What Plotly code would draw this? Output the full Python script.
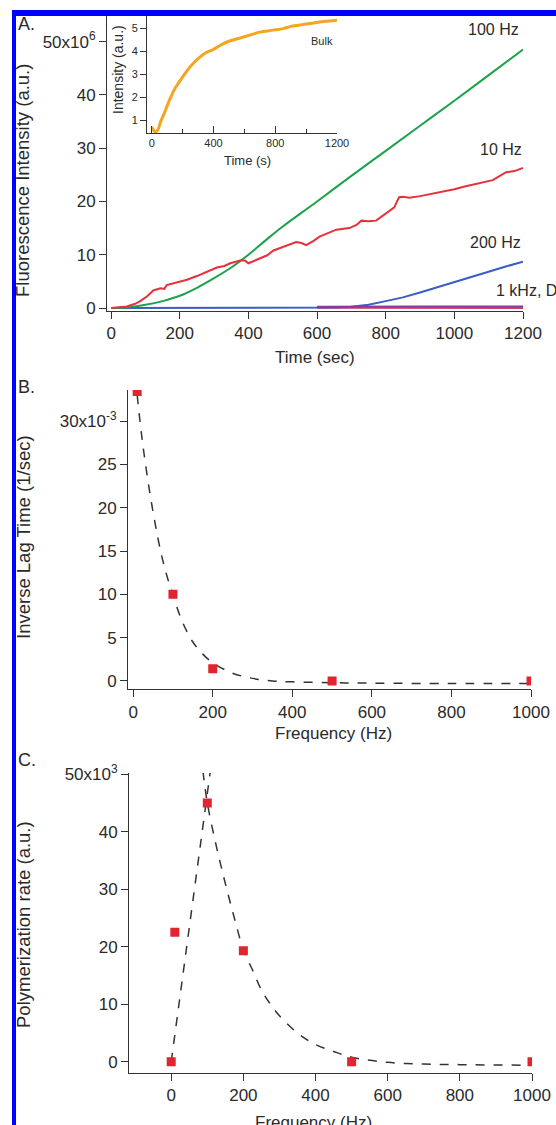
import plotly.graph_objects as go

W, H = 556, 1125

# ---------------- Data ----------------
# Panel A: fluorescence vs time
t_100hz = [0, 50, 100, 150, 200, 250, 300, 350, 400, 450, 500, 600, 700, 800, 900, 1000, 1100, 1200]
v_100hz = [0, 0.15, 0.6, 1.3, 2.3, 3.8, 5.6, 7.6, 10.0, 12.7, 15.3, 20.0, 24.8, 29.5, 34.2, 38.9, 43.7, 48.5]

t_10hz = [0, 20, 46, 70, 85, 105, 123, 143, 155, 162, 180, 201, 221, 250, 279, 308, 330, 347, 376, 390,
          400, 415, 434, 455, 473, 500, 520, 539, 555, 568, 590, 607, 630, 656, 694, 715, 729, 750, 772,
          801, 825, 833, 839, 850, 869, 900, 930, 967, 1000, 1030, 1064, 1090, 1112, 1130, 1151, 1175, 1200]
v_10hz = [0, 0.1, 0.3, 0.8, 1.3, 2.2, 3.3, 3.7, 3.6, 4.3, 4.6, 4.9, 5.3, 6.0, 6.8, 7.6, 7.9, 8.4, 8.9, 8.9,
          8.4, 8.8, 9.3, 9.9, 10.8, 11.4, 11.9, 12.4, 12.2, 11.8, 12.6, 13.4, 14.0, 14.7, 15.0, 15.6, 16.4, 16.3, 16.4,
          17.7, 18.9, 20.0, 20.8, 20.9, 20.7, 21.0, 21.4, 21.8, 22.3, 22.8, 23.3, 23.6, 24.0, 24.7, 25.5, 25.7, 26.3]

t_200hz = [0, 200, 400, 600, 650, 700, 750, 800, 850, 900, 950, 1000, 1050, 1100, 1150, 1200]
v_200hz = [0, 0, 0, 0.02, 0.08, 0.25, 0.6, 1.3, 2.0, 2.9, 3.9, 4.9, 5.9, 6.9, 7.8, 8.7]

t_1khz = [600, 700, 800, 900, 1000, 1100, 1200]
v_1khz = [0.25, 0.3, 0.25, 0.3, 0.3, 0.25, 0.3]
t_dc = [600, 700, 800, 900, 1000, 1100, 1200]
v_dc = [0.05, 0.05, 0.0, 0.05, 0.0, 0.05, 0.0]

# Inset: bulk
t_bulk = [0, 10, 20, 30, 40, 50, 60, 80, 100, 125, 150, 175, 200, 250, 300, 350, 400, 450, 500, 550,
          600, 650, 700, 750, 800, 850, 900, 950, 1000, 1050, 1100, 1150, 1200]
v_bulk = [0.73, 0.6, 0.52, 0.52, 0.6, 0.8, 1.0, 1.3, 1.65, 2.05, 2.4, 2.65, 2.9, 3.35, 3.7, 3.95, 4.1,
          4.3, 4.45, 4.55, 4.65, 4.75, 4.85, 4.9, 4.95, 5.0, 5.1, 5.15, 5.2, 5.25, 5.3, 5.33, 5.37]

# Panel B: inverse lag time
freq_b = [10, 100, 200, 500, 1000]
inv_lag = [33.4, 10.0, 1.4, 0.0, 0.0]
fitb_x = [10, 25, 50, 75, 100, 125, 150, 175, 200, 250, 300, 350, 400, 500, 600, 800, 1000]
fitb_y = [33.0, 27.0, 19.5, 13.8, 9.9, 6.7, 4.5, 3.1, 2.1, 0.9, 0.3, 0.0, -0.1, -0.2, -0.25, -0.3, -0.3]

# Panel C: polymerization rate
freq_c = [0, 10, 100, 200, 500, 1000]
poly_rate = [0, 22.5, 45.0, 19.3, 0.0, 0.0]
fitc1_x = [0, 109]
fitc1_y = [0, 50.8]
fitc2_x = [88, 100, 125, 150, 175, 200, 225, 250, 275, 300, 350, 400, 450, 500, 600, 700, 800, 1000]
fitc2_y = [50.5, 45.0, 37.5, 31.0, 25.0, 19.5, 16.0, 12.5, 10.0, 8.0, 5.0, 3.0, 1.8, 0.8, -0.1, -0.4, -0.5, -0.6]

# ---------------- Layout helpers ----------------
def px_x(p):
    return p / W

def px_y(p):
    return 1 - p / H

FONT = "Arial, Liberation Sans, sans-serif"
TXT = "#2a2a2a"
AX = "#333333"

fig = go.Figure()

GREEN = "#1aa34a"
RED = "#e8303a"
BLUE = "#3a5cc4"
PURPLE = "#8a3a9e"
MAGENTA = "#d0406a"
ORANGE = "#f5a520"
MRED = "#e0252f"

# Panel A traces
fig.add_trace(go.Scatter(x=t_dc, y=v_dc, mode="lines", line=dict(color=MAGENTA, width=2), xaxis="x", yaxis="y"))
fig.add_trace(go.Scatter(x=t_200hz, y=v_200hz, mode="lines", line=dict(color=BLUE, width=2), xaxis="x", yaxis="y"))
fig.add_trace(go.Scatter(x=t_1khz, y=v_1khz, mode="lines", line=dict(color=PURPLE, width=2), xaxis="x", yaxis="y"))
fig.add_trace(go.Scatter(x=t_100hz, y=v_100hz, mode="lines", line=dict(color=GREEN, width=2, shape="spline"), xaxis="x", yaxis="y"))
fig.add_trace(go.Scatter(x=t_10hz, y=v_10hz, mode="lines", line=dict(color=RED, width=2), xaxis="x", yaxis="y"))

# Inset
fig.add_trace(go.Scatter(x=t_bulk, y=v_bulk, mode="lines", line=dict(color=ORANGE, width=3, shape="spline"), xaxis="x4", yaxis="y4"))

# Panel B
fig.add_trace(go.Scatter(x=fitb_x, y=fitb_y, mode="lines", line=dict(color="#333", width=1.5, dash="dash", shape="spline"), xaxis="x2", yaxis="y2"))
fig.add_trace(go.Scatter(x=freq_b, y=inv_lag, mode="markers", marker=dict(symbol="square", size=9, color=MRED), xaxis="x2", yaxis="y2"))

# Panel C
fig.add_trace(go.Scatter(x=fitc1_x, y=fitc1_y, mode="lines", line=dict(color="#333", width=1.5, dash="dash"), xaxis="x3", yaxis="y3"))
fig.add_trace(go.Scatter(x=fitc2_x, y=fitc2_y, mode="lines", line=dict(color="#333", width=1.5, dash="dash", shape="spline"), xaxis="x3", yaxis="y3"))
fig.add_trace(go.Scatter(x=freq_c, y=poly_rate, mode="markers", marker=dict(symbol="square", size=9, color=MRED), xaxis="x3", yaxis="y3"))

def axstyle(**kw):
    d = dict(showline=True, linecolor=AX, linewidth=1, ticks="outside", ticklen=7, tickcolor=AX,
             tickwidth=1, showgrid=False, zeroline=False, automargin=False,
             tickfont=dict(family=FONT, size=17, color=TXT), fixedrange=True)
    d.update(kw)
    return d

fig.update_layout(
    template="none",
    width=W, height=H, autosize=False,
    margin=dict(l=0, r=0, t=0, b=0, pad=0),
    paper_bgcolor="white", plot_bgcolor="rgba(0,0,0,0)",
    showlegend=False,
    font=dict(family=FONT, color=TXT),
    # Panel A
    xaxis=axstyle(domain=[px_x(107), px_x(523)], range=[-12, 1200], anchor="y",
                  tickvals=[0, 200, 400, 600, 800, 1000, 1200]),
    yaxis=axstyle(domain=[px_y(310.7), px_y(16)], range=[-0.5, 54.8], anchor="x",
                  tickvals=[0, 10, 20, 30, 40, 50],
                  ticktext=["0", "10", "20", "30", "40", "50x10<sup>6</sup>"]),
    # Panel B
    xaxis2=axstyle(domain=[px_x(128), px_x(531)], range=[-13, 1000], anchor="y2",
                   tickvals=[0, 200, 400, 600, 800, 1000]),
    yaxis2=axstyle(domain=[px_y(689.3), px_y(390)], range=[-0.96, 33.58], anchor="x2",
                   tickvals=[0, 5, 10, 15, 20, 25, 30],
                   ticktext=["0", "5", "10", "15", "20", "25", "30x10<sup>-3</sup>"]),
    # Panel C
    xaxis3=axstyle(domain=[px_x(129), px_x(532)], range=[-117, 1000], anchor="y3",
                   tickvals=[0, 200, 400, 600, 800, 1000]),
    yaxis3=axstyle(domain=[px_y(1072.7), px_y(773)], range=[-1.9, 50.2], anchor="x3",
                   tickvals=[0, 10, 20, 30, 40, 50],
                   ticktext=["0", "10", "20", "30", "40", "50x10<sup>3</sup>"]),
    # Inset
    xaxis4=axstyle(domain=[px_x(147), px_x(337)], range=[-31, 1200], anchor="y4",
                   ticks="inside", ticklen=7, tickvals=[0, 400, 800, 1200],
                   minor=dict(tickvals=[200, 600, 1000], ticks="inside", ticklen=4, tickcolor=AX),
                   tickfont=dict(family=FONT, size=11, color=TXT)),
    yaxis4=axstyle(domain=[px_y(133), px_y(16)], range=[0.46, 5.55], anchor="x4",
                   ticklen=6, tickvals=[1, 2, 3, 4, 5],
                   tickfont=dict(family=FONT, size=11, color=TXT)),
)

ann = []
def text(x, y, s, size=17, xanchor="center", yanchor="middle", angle=0):
    ann.append(dict(x=px_x(x), y=px_y(y), xref="paper", yref="paper", text=s, showarrow=False,
                    xanchor=xanchor, yanchor=yanchor, textangle=angle,
                    font=dict(family=FONT, size=size, color=TXT)))

# panel letters
text(16, 24, "A.", 18, xanchor="left")
text(16, 387, "B.", 18, xanchor="left")
text(16, 760, "C.", 18, xanchor="left")
# axis titles
text(315, 357, "Time (sec)")
text(23, 181, "Fluorescence Intensity (a.u.)", 18.5, angle=-90)
text(333, 733, "Frequency (Hz)")
text(23, 537, "Inverse Lag Time (1/sec)", 18.5, angle=-90)
text(313, 1122, "Frequency (Hz)")
text(23, 925, "Polymerization rate (a.u.)", 18.5, angle=-90)
# inset titles
text(247, 160, "Time (s)", 13)
text(118, 70, "Intensity (a.u.)", 14, angle=-90)
text(322, 41, "Bulk", 11)
# curve labels
text(493, 30, "100 Hz", 16)
text(501, 150, "10 Hz", 16)
text(495, 242, "200 Hz", 16)
text(494, 291, "1 kHz, DC", 16, xanchor="left")

fig.update_layout(annotations=ann)

# blue frame
fig.update_layout(shapes=[
    dict(type="rect", xref="paper", yref="paper", x0=px_x(12), x1=px_x(16), y0=0, y1=px_y(10),
         fillcolor="#0000ff", line=dict(width=0), layer="above"),
    dict(type="rect", xref="paper", yref="paper", x0=px_x(12), x1=1, y0=px_y(16), y1=px_y(10),
         fillcolor="#0000ff", line=dict(width=0), layer="above"),
])

post = (
    "document.documentElement.style.margin='0';document.documentElement.style.padding='0';"
    "document.documentElement.style.overflow='hidden';"
    "document.body.style.margin='0';document.body.style.padding='0';document.body.style.overflow='hidden';"
    "var d=document.getElementById('{plot_id}');"
    "d.style.overflow='hidden';"
    "d.parentElement.style.margin='0';d.parentElement.style.overflow='hidden';"
)
fig.write_html("out.html", config=dict(displayModeBar=False), post_script=post)
